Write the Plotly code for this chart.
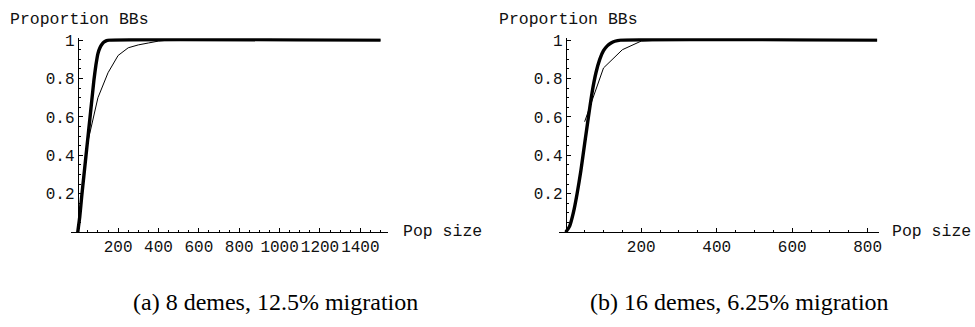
import plotly.graph_objects as go

W, H = 975, 327

# ---- data ----
# panel (a): 8 demes, 12.5% migration
a_thick_x = [0, 10, 20, 30, 40, 50, 60, 70, 80, 90, 100, 110, 120, 130, 140, 155, 1500]
a_thick_y = [0, 0.08, 0.19, 0.29, 0.39, 0.49, 0.59, 0.69, 0.79, 0.87, 0.93, 0.96, 0.978, 0.99, 0.996, 1.0, 1.0]
a_thin_x = [50, 100, 150, 200, 250, 300, 350, 400, 450, 1500]
a_thin_y = [0.47, 0.70, 0.83, 0.92, 0.96, 0.975, 0.985, 0.995, 1.0, 1.0]

# panel (b): 16 demes, 6.25% migration
b_thick_x = [0, 10, 20, 30, 40, 50, 60, 70, 80, 90, 100, 110, 120, 130, 145, 825]
b_thick_y = [0, 0.03, 0.10, 0.20, 0.32, 0.46, 0.60, 0.73, 0.83, 0.90, 0.945, 0.97, 0.985, 0.994, 1.0, 1.0]
b_thin_x = [50, 100, 150, 200, 250, 825]
b_thin_y = [0.575, 0.855, 0.95, 0.995, 1.0, 1.0]

a_xticks = [200, 400, 600, 800, 1000, 1200, 1400]
b_xticks = [200, 400, 600, 800]
yticks = [0.2, 0.4, 0.6, 0.8, 1]
ytick_text = ["0.2", "0.4", "0.6", "0.8", "1"]

y_label = "Proportion BBs"
x_label = "Pop size"
captions = ["(a) 8 demes, 12.5% migration", "(b) 16 demes, 6.25% migration"]

# ---- layout geometry (pixels) ----
def fx(px):
    return px / W

def fy(py):
    return 1 - py / H

a_range = [-35, 1535]
b_range = [-18, 830]
a_px = [70.9, 388.8]
b_px = [560.7, 881.7]
y_top_px, y_bot_px = 33.7, 230.7

mono = "Liberation Mono"
tickfont = dict(family=mono, size=16, color="#111111")

fig = go.Figure()
thick = dict(color="black", width=3.4)
thin = dict(color="black", width=1)

fig.add_trace(go.Scatter(x=a_thin_x, y=a_thin_y, mode="lines", line=thin, xaxis="x", yaxis="y"))
fig.add_trace(go.Scatter(x=a_thick_x, y=a_thick_y, mode="lines", line=dict(shape="spline", smoothing=0.5, **thick), xaxis="x", yaxis="y"))
fig.add_trace(go.Scatter(x=b_thin_x, y=b_thin_y, mode="lines", line=thin, xaxis="x2", yaxis="y2"))
fig.add_trace(go.Scatter(x=b_thick_x, y=b_thick_y, mode="lines", line=dict(shape="spline", smoothing=0.5, **thick), xaxis="x2", yaxis="y2"))

def xaxis(domain, rng, ticks, anchor):
    return dict(
        domain=domain, range=rng, anchor=anchor,
        showline=True, linecolor="black", linewidth=1,
        showgrid=False, zeroline=False,
        tickmode="array", tickvals=ticks, ticktext=[str(t) for t in ticks],
        tickangle=0,
        ticks="inside", ticklen=4, tickcolor="black", tickwidth=1,
        minor=dict(dtick=50, tick0=0, ticks="inside", ticklen=2, tickcolor="black", showgrid=False),
        tickfont=tickfont, fixedrange=True,
    )

def yaxis(position):
    return dict(
        domain=[fy(y_bot_px), fy(y_top_px)], range=[0, 1.01],
        anchor="free", position=position,
        showline=True, linecolor="black", linewidth=1,
        showgrid=False, zeroline=False,
        tickmode="array", tickvals=yticks, ticktext=ytick_text,
        ticks="inside", ticklen=4, tickcolor="black", tickwidth=1,
        minor=dict(dtick=0.05, tick0=0, ticks="inside", ticklen=2, tickcolor="black", showgrid=False),
        tickfont=tickfont, fixedrange=True,
    )

a_zero = a_px[0] + (0 - a_range[0]) / (a_range[1] - a_range[0]) * (a_px[1] - a_px[0])
b_zero = b_px[0] + (0 - b_range[0]) / (b_range[1] - b_range[0]) * (b_px[1] - b_px[0])

fig.update_layout(
    width=W, height=H,
    margin=dict(l=0, r=0, t=0, b=0),
    paper_bgcolor="white", plot_bgcolor="white",
    showlegend=False,
    xaxis=xaxis([fx(a_px[0]), fx(a_px[1])], a_range, a_xticks, "y"),
    yaxis=yaxis(fx(a_zero)),
    xaxis2=xaxis([fx(b_px[0]), fx(b_px[1])], b_range, b_xticks, "y2"),
    yaxis2=yaxis(fx(b_zero)),
)

ann = []
for xl in (8, 499):
    ann.append(dict(x=fx(xl), y=fy(15), xref="paper", yref="paper", text=y_label,
                    showarrow=False, xanchor="left", yanchor="middle",
                    font=dict(family=mono, size=16.5, color="#111111")))
for xl in (402, 893):
    ann.append(dict(x=fx(xl), y=fy(230), xref="paper", yref="paper", text=x_label,
                    showarrow=False, xanchor="left", yanchor="middle",
                    font=dict(family=mono, size=16.5, color="#111111")))
for xc, cap in zip((276, 741.5), captions):
    ann.append(dict(x=fx(xc), y=fy(302), xref="paper", yref="paper", text=cap,
                    showarrow=False, xanchor="center", yanchor="middle",
                    font=dict(family="Liberation Serif", size=24, color="black")))
fig.update_layout(annotations=ann)

fig.write_html("out.html")
